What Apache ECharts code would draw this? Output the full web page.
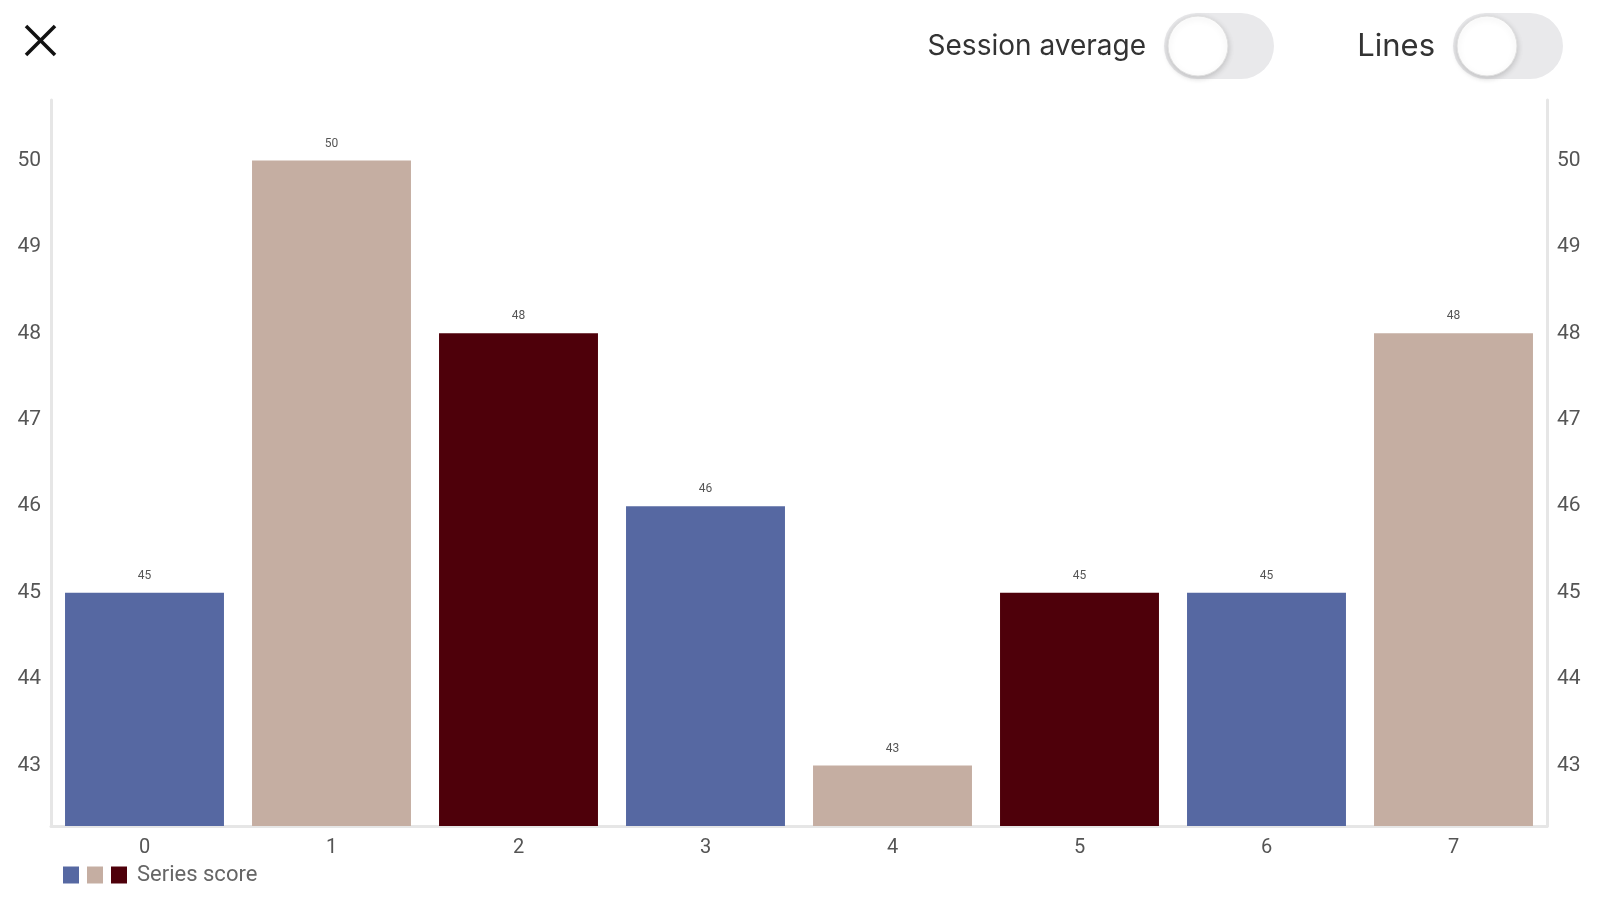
<!DOCTYPE html>
<html>
<head>
<meta charset="utf-8">
<title>Series score</title>
<script src="https://cdn.jsdelivr.net/npm/echarts@6/dist/echarts.min.js"></script>
<style>
  html, body { margin: 0; padding: 0; background: #fff; }
  #char { width: 1599px; height: 900px; }
</style>
</head>
<body>
<div id="char"></div>
<script>
// data
var categories = ["0", "1", "2", "3", "4", "5", "6", "7"];
var scores = [45, 50, 48, 46, 43, 45, 45, 48];
var barColors = ["#5668a2", "#c5aea2", "#4e000a"];
var yTicks = [43, 44, 45, 46, 47, 48, 49, 50];
var seriesName = "Series score";
var toggles = ["Session average", "Lines"];

var axisGrey = "#e6e6e6";
var labelGrey = "#555";

function yAxisOf(pos) {
  return {
    type: "value",
    position: pos,
    min: 42.3,
    max: 50.7,
    interval: 0.1,
    axisLine: { show: true, lineStyle: { color: axisGrey, width: 3 } },
    axisTick: { show: false },
    splitLine: { show: false },
    axisLabel: {
      color: labelGrey,
      fontSize: 21,
      fontFamily: "Roboto",
      margin: 10,
      showMinLabel: false,
      showMaxLabel: false,
      formatter: function (v) {
        var r = Math.round(v);
        if (Math.abs(v - r) < 1e-6 && yTicks.indexOf(r) >= 0) return String(r);
        return "";
      }
    }
  };
}

function toggle(x, label, fontSize) {
  return [
    {
      type: "text",
      right: 1599 - x + 18,
      top: 47 - Math.round(fontSize / 2),
      style: { text: label, fill: "#333", font: fontSize + "px Inter" }
    },
    {
      type: "rect",
      shape: { x: x, y: 13, width: 110, height: 66, r: 33 },
      style: { fill: "#e9e9eb" }
    },
    {
      type: "circle",
      shape: { cx: x + 34, cy: 46, r: 30 },
      style: {
        fill: "#fff",
        stroke: "#e0e0e0",
        lineWidth: 1,
        shadowBlur: 6,
        shadowOffsetY: 2,
        shadowColor: "rgba(0,0,0,0.18)"
      }
    }
  ];
}

var legendRich = {
  s: { width: 8 },
  t: { fontSize: 22, color: "#666", fontFamily: "Roboto", padding: [0, 0, 0, 2] }
};
barColors.forEach(function (c, i) {
  legendRich["c" + i] = { width: 16, height: 17, backgroundColor: c };
});

var option = {
  animation: false,
  grid: { left: 51, right: 52, top: 100, bottom: 74, containLabel: false },
  legend: {
    show: true,
    left: 53,
    top: 859,
    itemWidth: 0,
    itemHeight: 0,
    data: [seriesName],
    formatter: function (name) {
      return "{c0|}{s|}{c1|}{s|}{c2|}{s|}{t|" + name + "}";
    },
    textStyle: { rich: legendRich }
  },
  xAxis: [
    {
      type: "category",
      data: categories,
      axisLine: { show: true, lineStyle: { color: axisGrey, width: 3 } },
      axisTick: { show: false },
      axisLabel: { color: labelGrey, fontSize: 20, fontFamily: "Roboto", margin: 12 }
    }
  ],
  yAxis: [yAxisOf("left"), yAxisOf("right")],
  series: [
    {
      name: seriesName,
      type: "bar",
      barCategoryGap: "15%",
      data: scores,
      itemStyle: {
        color: function (params) {
          return barColors[params.dataIndex % barColors.length];
        }
      },
      label: {
        show: true,
        position: "top",
        distance: 11,
        fontSize: 12,
        fontFamily: "Roboto",
        color: labelGrey
      }
    }
  ],
  graphic: [
    // close button
    { type: "line", shape: { x1: 26, y1: 26, x2: 55, y2: 55 }, style: { stroke: "#111", lineWidth: 3.5 } },
    { type: "line", shape: { x1: 55, y1: 26, x2: 26, y2: 55 }, style: { stroke: "#111", lineWidth: 3.5 } }
  ]
    .concat(toggle(1164, toggles[0], 28))
    .concat(toggle(1453, toggles[1], 31))
};

var myChart = echarts.init(document.getElementById("char"));
myChart.setOption(option);
</script>
</body>
</html>
